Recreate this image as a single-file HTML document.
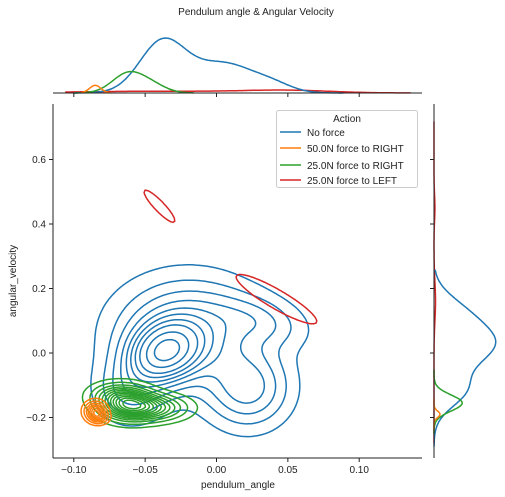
<!DOCTYPE html>
<html><head><meta charset="utf-8">
<style>
html,body{margin:0;padding:0;background:#fff;}
svg{display:block;font-family:"Liberation Sans","DejaVu Sans",sans-serif;}
</style></head>
<body>
<svg id="chart" width="505" height="497" viewBox="0 0 505 497" xmlns="http://www.w3.org/2000/svg">
<text x="256" y="15" font-size="10" text-anchor="middle" fill="#222">Pendulum angle &amp; Angular Velocity</text>
<g id="contours"></g>
<g id="marg"></g>
<g id="axes"></g>
<g>
<rect x="276.5" y="110.5" width="141" height="77" rx="2" fill="#fff" fill-opacity="0.8" stroke="#ccc"/>
<text x="347" y="122" font-size="10" text-anchor="middle" fill="#222">Action</text>
<g><line x1="280" y1="132" x2="301" y2="132" stroke="#1f77b4" stroke-width="1.5"/><text x="307" y="136" font-size="10" fill="#222">No force</text></g>
<g><line x1="280" y1="148" x2="301" y2="148" stroke="#ff7f0e" stroke-width="1.5"/><text x="307" y="152" font-size="10" fill="#222">50.0N force to RIGHT</text></g>
<g><line x1="280" y1="165" x2="301" y2="165" stroke="#2ca02c" stroke-width="1.5"/><text x="307" y="169" font-size="10" fill="#222">25.0N force to RIGHT</text></g>
<g><line x1="280" y1="180" x2="301" y2="180" stroke="#d62728" stroke-width="1.5"/><text x="307" y="184" font-size="10" fill="#222">25.0N force to LEFT</text></g>
</g>
</svg>
<script>
// Gaussian mixture components per series: [mux, muy, sx, sy, rho, weight]
const blueComps = [[-0.037,0.0,0.016,0.06,0.2,1.0],[-0.02,0.06,0.03,0.1,0,0.55],[0.022,-0.11,0.018,0.075,0,0.4],[0.03,0.1,0.02,0.05,-0.3,0.2],[-0.06,-0.12,0.015,0.06,0,0.25]];
const blueLevels = [0.04,0.1,0.17,0.25,0.33,0.41,0.5,0.6,0.75,0.9];
const greenComps = [[-0.062,-0.16,0.012,0.03,0,1.0],[-0.045,-0.17,0.015,0.025,0,0.7],[-0.07,-0.13,0.012,0.025,0,0.4]];
const greenLevels = [0.05,0.12,0.2,0.28,0.36,0.44,0.52,0.6,0.68,0.76,0.84,0.92];
const orangeComps = [[-0.085,-0.18,0.0045,0.018,0,1.0],[-0.082,-0.2,0.004,0.012,0,0.5]];
const orangeLevels = [0.08,0.2,0.35,0.5,0.65,0.8,0.92];
const redComps = [[-0.04,0.455,0.0065,0.03,-0.9,1.0],[0.042,0.167,0.017,0.046,-0.9,1.0]];
const redLevels = [0.25];
// marginal 1D mixtures: [mu, sigma, weight]
const topBlue = [[-0.038,0.016,0.85],[0.005,0.022,0.5],[0.04,0.013,0.1]];
const topGreen = [[-0.062,0.011,0.33],[-0.045,0.01,0.12]];
const topOrange = [[-0.085,0.004,0.13]];
const topRed = [[-0.04,0.06,0.03],[0.05,0.03,0.04]];
const rightBlue = [[0.03,0.07,1.0],[-0.12,0.05,0.45],[0.14,0.05,0.25]];
const rightGreen = [[-0.155,0.025,0.47]];
const rightOrange = [[-0.19,0.01,0.1]];
const rightRed = [[0.45,0.04,0.015],[0.16,0.06,0.025]];
const xTicks = [-0.10,-0.05,0.00,0.05,0.10];
const xTickLabels = ["\u22120.10","\u22120.05","0.00","0.05","0.10"];
const yTicks = [-0.2,0.0,0.2,0.4,0.6];
const yTickLabels = ["\u22120.2","0.0","0.2","0.4","0.6"];

const NS="http://www.w3.org/2000/svg";
const X0=53,X1=422,Y0=104,Y1=458;
const xs=v=>216.5+v*1427;
const ys=v=>353-v*322.5;
const xinv=p=>(p-216.5)/1427;
const yinv=p=>(353-p)/322.5;
function mk(tag,attrs,parent){const e=document.createElementNS(NS,tag);for(const k in attrs)e.setAttribute(k,attrs[k]);parent.appendChild(e);return e;}
function dens(comps,x,y){let s=0;for(const c of comps){const dx=(x-c[0])/c[2],dy=(y-c[1])/c[3],r=c[4];s+=c[5]*Math.exp(-(dx*dx-2*r*dx*dy+dy*dy)/(2*(1-r*r)));}return s;}
function contour(comps,levels,color,name){
  const g=document.getElementById('contours');
  const N=160,M=160;const grid=[];let mx=0;
  for(let j=0;j<=M;j++){grid[j]=[];for(let i=0;i<=N;i++){const px=X0+(X1-X0)*i/N,py=Y0+(Y1-Y0)*j/M;const d=dens(comps,xinv(px),yinv(py));grid[j][i]=d;if(d>mx)mx=d;}}
  const dxp=(X1-X0)/N,dyp=(Y1-Y0)/M;
  levels.forEach((lf,li)=>{const L=lf*mx;let d="";
    for(let j=0;j<M;j++)for(let i=0;i<N;i++){
      const a=grid[j][i],b=grid[j][i+1],c=grid[j+1][i+1],e=grid[j+1][i];
      const x=X0+i*dxp,y=Y0+j*dyp;const pts=[];
      const it=(v1,v2)=>(L-v1)/(v2-v1);
      if((a>L)!=(b>L))pts.push([x+it(a,b)*dxp,y]);
      if((b>L)!=(c>L))pts.push([x+dxp,y+it(b,c)*dyp]);
      if((e>L)!=(c>L))pts.push([x+it(e,c)*dxp,y+dyp]);
      if((a>L)!=(e>L))pts.push([x,y+it(a,e)*dyp]);
      for(let k=0;k+1<pts.length;k+=2)d+="M"+pts[k][0].toFixed(1)+" "+pts[k][1].toFixed(1)+"L"+pts[k+1][0].toFixed(1)+" "+pts[k+1][1].toFixed(1);
    }
    const p=mk('path',{d:d,fill:'none',stroke:color,'stroke-width':1.5,'stroke-linecap':'round'},g);
    
    
  });
}
contour(blueComps,blueLevels,'#1f77b4','no-force');
contour(greenComps,greenLevels,'#2ca02c','25n-right');
contour(orangeComps,orangeLevels,'#ff7f0e','50n-right');
contour(redComps,redLevels,'#d62728','25n-left');

function d1(comps,v){let s=0;for(const c of comps){const z=(v-c[0])/c[1];s+=c[2]*Math.exp(-z*z/2);}return s;}
const mg=document.getElementById('marg');
function topCurve(comps,color,name,lo,hi){let d="";for(let v=lo;v<=hi;v+=0.001){const px=xs(v),py=93-59*d1(comps,v);d+=(d?"L":"M")+px.toFixed(1)+" "+py.toFixed(1);}
  const p=mk('path',{d:d,fill:'none',stroke:color,'stroke-width':1.5},mg);
  
  }
function rightCurve(comps,color,name,lo,hi){let d="";for(let v=lo;v<=hi;v+=0.002){const py=ys(v),px=434+60*d1(comps,v);d+=(d?"L":"M")+px.toFixed(1)+" "+py.toFixed(1);}
  const p=mk('path',{d:d,fill:'none',stroke:color,'stroke-width':1.5},mg);
  
  }
topCurve(topRed,'#d62728','top-kde-25n-left',-0.106,0.137);
topCurve(topBlue,'#1f77b4','top-kde-no-force',-0.1,0.09);
topCurve(topGreen,'#2ca02c','top-kde-25n-right',-0.1,-0.015);
topCurve(topOrange,'#ff7f0e','top-kde-50n-right',-0.095,-0.073);
rightCurve(rightRed,'#d62728','right-kde-25n-left',-0.28,0.72);
rightCurve(rightBlue,'#1f77b4','right-kde-no-force',-0.29,0.26);
rightCurve(rightGreen,'#2ca02c','right-kde-25n-right',-0.25,-0.05);
rightCurve(rightOrange,'#ff7f0e','right-kde-50n-right',-0.24,-0.14);

const ax=document.getElementById('axes');
mk('line',{x1:X0,y1:Y0,x2:X0,y2:Y1,stroke:'#222','stroke-width':1},ax);
mk('line',{x1:X0,y1:Y1,x2:X1,y2:Y1,stroke:'#222','stroke-width':1},ax);
mk('line',{x1:X0,y1:93,x2:X1,y2:93,stroke:'#222','stroke-width':1},ax);
mk('line',{x1:434,y1:Y0,x2:434,y2:Y1,stroke:'#222','stroke-width':1},ax);
xTicks.forEach((t,i)=>{const x=xs(t);
  mk('line',{x1:x,y1:Y1,x2:x,y2:Y1+4,stroke:'#222'},ax);
  mk('line',{x1:x,y1:93,x2:x,y2:97,stroke:'#222'},ax);
  const tx=mk('text',{x:x,y:Y1+15,'font-size':10,'text-anchor':'middle',fill:'#222'},ax);tx.textContent=xTickLabels[i];
  
  });
yTicks.forEach((t,i)=>{const y=ys(t);
  mk('line',{x1:X0-4,y1:y,x2:X0,y2:y,stroke:'#222'},ax);
  mk('line',{x1:430,y1:y,x2:434,y2:y,stroke:'#222'},ax);
  const tx=mk('text',{x:X0-7,y:y+3.5,'font-size':10,'text-anchor':'end',fill:'#222'},ax);tx.textContent=yTickLabels[i];
  
  });
const xl=mk('text',{x:238,y:488,'font-size':10,'text-anchor':'middle',fill:'#222'},ax);xl.textContent='pendulum_angle';


const yl=mk('text',{x:0,y:0,'font-size':10,'text-anchor':'middle',fill:'#222',transform:'translate(16,281) rotate(-90)'},ax);yl.textContent='angular_velocity';


</script>
</body></html>
